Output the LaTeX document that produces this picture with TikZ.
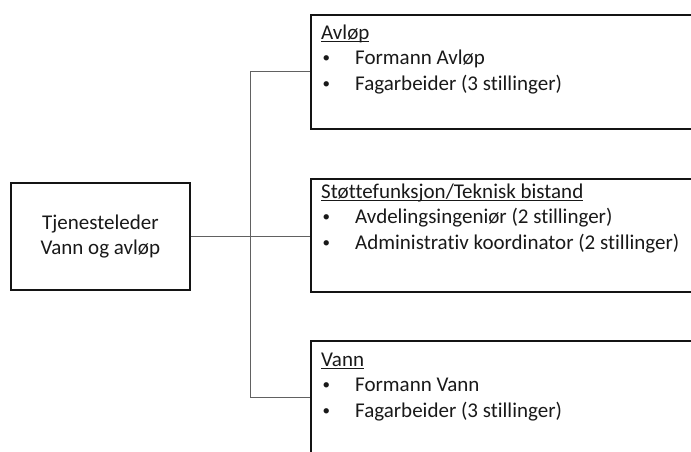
\documentclass[tikz,border=0pt]{standalone}
\usepackage{fontspec}
\setmainfont{Carlito}[Ligatures=NoCommon]
\newcommand\mybul{\makebox[34pt][l]{\hspace{1.5pt}\raisebox{1.6pt}{\fontsize{15}{15}\selectfont\textbullet}}}
\newcommand\myul[1]{\setbox0\hbox{#1}\rlap{\rule[-2.6pt]{\wd0}{0.9pt}}\box0}
\begin{document}
\begin{tikzpicture}[x=1pt,y=-1pt,
  lead/.style={draw=black!92, line width=1.7pt, minimum width=179pt, minimum height=107pt,
    inner sep=0pt, anchor=north west, align=center, text=black!90,
    font=\fontsize{21}{25}\selectfont},
  unit/.style={draw=black!92, line width=1.7pt, minimum width=460pt, minimum height=114pt,
    inner sep=0pt, anchor=north west},
  conn/.style={draw=black!62, line width=1pt},
  txt/.style={font=\fontsize{21}{25.5}\selectfont, text=black!90, inner sep=0pt,
    align=left, anchor=base west},
]
\useasboundingbox (0,0) rectangle (691,451);
\clip (0,0) rectangle (691,451);

\node[lead] (leader) at (10,182) {Tjenesteleder\\Vann og avløp};

\node[unit] (avlop) at (310,14) {};
\node[unit, minimum height=113pt] (stotte) at (310,178) {};
\node[unit] (vann) at (310,340) {};

\node[txt] (avlopt) at (321,90)
  {\myul{Avløp}\\\mybul Formann Avløp\\\mybul Fagarbeider (3 stillinger)};
\node[txt] (stottet) at (321,249)
  {\myul{Støttefunksjon/Teknisk bistand}\\\mybul Avdelingsingeniør (2 stillinger)\\\mybul Administrativ koordinator (2 stillinger)};
\node[txt] (vannt) at (321,417)
  {\myul{Vann}\\\mybul Formann Vann\\\mybul Fagarbeider (3 stillinger)};

\coordinate (jtop) at (250,0 |- avlop.west);
\coordinate (jbot) at (250,0 |- vann.west);
\draw[conn] (leader.east) -- (leader.east -| stotte.west);
\draw[conn] (avlop.west) -- (jtop) -- (jbot) -- (vann.west);
\end{tikzpicture}
\end{document}
